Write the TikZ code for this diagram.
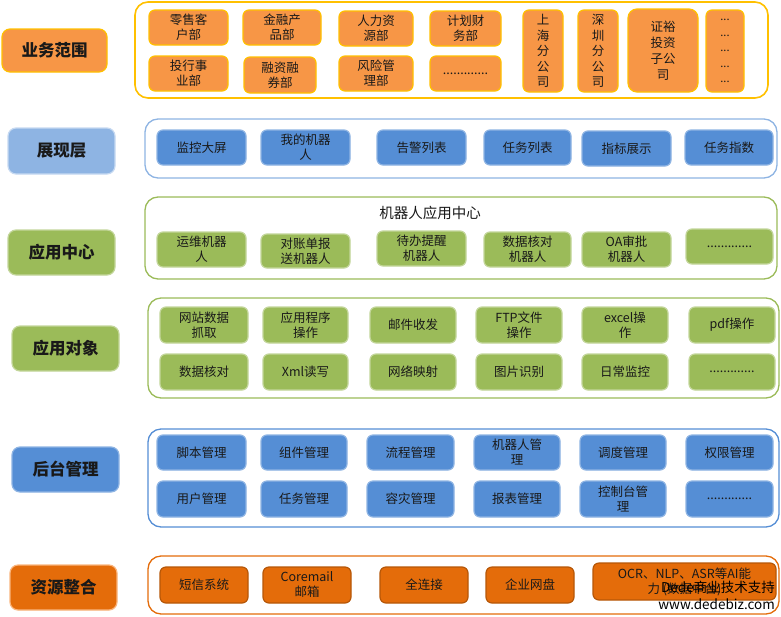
\documentclass[tikz,border=0pt]{standalone}
\usepackage{fontspec}
\setmainfont{Noto Sans CJK SC}
\usetikzlibrary{positioning}
\definecolor{orA}{HTML}{F79646}
\definecolor{yeB}{HTML}{FFC000}
\definecolor{blL}{HTML}{8EB4E3}
\definecolor{blLb}{HTML}{C6D9F1}
\definecolor{blM}{HTML}{558ED5}
\definecolor{blMb}{HTML}{8EB4E3}
\definecolor{grA}{HTML}{9BBB59}
\definecolor{grAb}{HTML}{C3D69B}
\definecolor{orD}{HTML}{E46C0A}
\definecolor{orDb}{HTML}{B65708}
\newcommand\bb[7]{\node[#6, minimum width={#4pt-#2pt}, minimum height={#5pt-#3pt}] (#1) at ({(#2+#4)/2},{(#3+#5)/2}) {#7};}
\tikzset{
  base/.style={rounded corners=6pt, inner sep=0pt, outer sep=0pt, align=center, line width=1.2pt,
     font=\fontsize{12.5}{15}\selectfont, text=black!90},
  cont/.style={rounded corners=13pt, inner sep=0pt, outer sep=0pt, line width=1.3pt, fill=white},
  lab/.style={base, font=\fontsize{16.5}{18}\selectfont\bfseries, rounded corners=8pt},
  bizb/.style={base, fill=orA, draw=yeB},
  bizc/.style={cont, draw=yeB, line width=1.6pt},
  shb/.style={base, fill=blM, draw=blMb},
  shl/.style={lab, fill=blL, draw=blLb},
  shc/.style={cont, draw=blL},
  grb/.style={base, fill=grA, draw=grAb},
  grl/.style={lab, fill=grA, draw=grAb},
  grc/.style={cont, draw=grA},
  bgb/.style={base, fill=blM, draw=blMb},
  bgl/.style={lab, fill=blM, draw=blMb},
  bgc/.style={cont, draw=blM},
  rsb/.style={base, fill=orD, draw=orDb},
  rsl/.style={lab, fill=orD, draw=orA!70},
  rsc/.style={cont, draw=orD},
  wm/.style={inner sep=0pt, font=\fontsize{13.5}{14}\selectfont}
}
\begin{document}
\begin{tikzpicture}[x=1pt,y=-1pt]
\useasboundingbox (0,0) rectangle (781,616);
% Row 1
\bb{c1}{135}{2}{768}{98}{bizc}{}
\bb{l1}{2}{29}{107}{72}{lab, fill=orA, draw=yeB}{业务范围}
\bb{a1}{149}{10}{228}{45}{bizb}{零售客\\户部}
\bb{a2}{243}{10}{321}{45}{bizb}{金融产\\品部}
\bb{a3}{339}{11}{413}{46}{bizb}{人力资\\源部}
\bb{a4}{430}{11}{501}{46}{bizb}{计划财\\务部}
\bb{b1}{149}{56}{228}{91}{bizb}{投行事\\业部}
\bb{b2}{244}{57}{316}{93}{bizb}{融资融\\券部}
\bb{b3}{339}{56}{413}{91}{bizb}{风险管\\理部}
\bb{b4}{430}{56}{501}{91}{bizb}{.............}
\bb{s1}{523}{10}{563}{92}{bizb, font=\fontsize{12.5}{15.5}\selectfont}{上\\海\\分\\公\\司}
\bb{s2}{578}{10}{618}{92}{bizb, font=\fontsize{12.5}{15.5}\selectfont}{深\\圳\\分\\公\\司}
\bb{s3}{628}{9}{698}{92}{bizb, rounded corners=9pt, font=\fontsize{12.5}{16}\selectfont}{证裕\\投资\\子公\\司}
\bb{s4}{706}{10}{744}{92}{bizb, font=\fontsize{11}{15.5}\selectfont}{...\\...\\...\\...\\...}
% Row 2
\bb{c2}{145}{119}{777}{178}{shc}{}
\bb{l2}{8}{128}{115}{174}{shl}{展现层}
\bb{p1}{157}{130}{246}{165}{shb}{监控大屏}
\bb{p2}{261}{130}{350}{165}{shb}{我的机器\\人}
\bb{p3}{377}{130}{466}{165}{shb}{告警列表}
\bb{p4}{484}{130}{571}{165}{shb}{任务列表}
\bb{p5}{582}{131}{671}{166}{shb}{指标展示}
\bb{p6}{685}{130}{773}{165}{shb}{任务指数}
% Row 3
\bb{c3}{145}{197}{777}{279}{grc}{}
\node[font=\fontsize{14.5}{16}\selectfont, text=black!90] (t3) at (430,213) {机器人应用中心};
\bb{l3}{8}{230}{115}{275}{grl}{应用中心}
\bb{q1}{157}{232}{246}{267}{grb}{运维机器\\人}
\bb{q2}{261}{234}{350}{268}{grb}{对账单报\\送机器人}
\bb{q3}{377}{231}{466}{266}{grb}{待办提醒\\机器人}
\bb{q4}{484}{232}{571}{267}{grb}{数据核对\\机器人}
\bb{q5}{582}{232}{671}{267}{grb}{OA审批\\机器人}
\bb{q6}{686}{229}{773}{264}{grb}{.............}
% Row 4
\bb{c4}{148}{298}{779}{398}{grc}{}
\bb{l4}{12}{326}{119}{371}{grl}{应用对象}
\bb{m1}{160}{307}{248}{343}{grb}{网站数据\\抓取}
\bb{m2}{263}{307}{348}{343}{grb}{应用程序\\操作}
\bb{m3}{370}{307}{456}{343}{grb}{邮件收发}
\bb{m4}{476}{307}{562}{343}{grb}{FTP文件\\操作}
\bb{m5}{582}{307}{668}{343}{grb}{excel操\\作}
\bb{m6}{689}{307}{775}{343}{grb}{pdf操作}
\bb{n1}{160}{354}{248}{390}{grb}{数据核对}
\bb{n2}{263}{354}{348}{390}{grb}{Xml读写}
\bb{n3}{370}{354}{456}{390}{grb}{网络映射}
\bb{n4}{476}{354}{562}{390}{grb}{图片识别}
\bb{n5}{582}{354}{668}{390}{grb}{日常监控}
\bb{n6}{689}{354}{775}{390}{grb}{.............}
% Row 5
\bb{c5}{148}{429}{779}{527}{bgc}{}
\bb{l5}{12}{447}{119}{492}{bgl}{后台管理}
\bb{g1}{157}{435}{246}{470}{bgb}{脚本管理}
\bb{g2}{261}{435}{347}{470}{bgb}{组件管理}
\bb{g3}{367}{435}{454}{470}{bgb}{流程管理}
\bb{g4}{474}{435}{560}{470}{bgb}{机器人管\\理}
\bb{g5}{580}{435}{666}{470}{bgb}{调度管理}
\bb{g6}{686}{435}{773}{470}{bgb}{权限管理}
\bb{h1}{157}{481}{246}{517}{bgb}{用户管理}
\bb{h2}{261}{481}{347}{517}{bgb}{任务管理}
\bb{h3}{367}{481}{454}{517}{bgb}{容灾管理}
\bb{h4}{474}{481}{560}{517}{bgb}{报表管理}
\bb{h5}{580}{481}{666}{517}{bgb}{控制台管\\理}
\bb{h6}{686}{481}{773}{517}{bgb}{.............}
% Row 6
\bb{c6}{148}{556}{779}{614}{rsc}{}
\bb{l6}{10}{565}{117}{610}{rsl}{资源整合}
\bb{r1}{160}{567}{248}{603}{rsb}{短信系统}
\bb{r2}{263}{567}{351}{603}{rsb}{Coremail\\邮箱}
\bb{r3}{380}{567}{468}{603}{rsb}{全连接}
\bb{r4}{486}{567}{574}{603}{rsb}{企业网盘}
\bb{r5}{593}{563}{776}{600}{rsb}{OCR、NLP、ASR等AI能\\力 (数据中台)}
% watermark
\node[wm, anchor=east] (w1) at (775,587) {Dede商业技术支持};
\node[wm, anchor=east] (w2) at (775,604) {www.dedebiz.com};
\end{tikzpicture}
\end{document}
